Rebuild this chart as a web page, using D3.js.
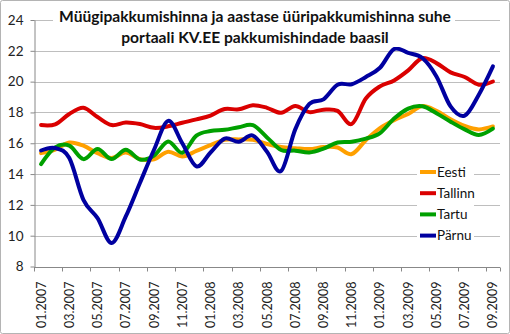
<!DOCTYPE html>
<html>
<head>
<meta charset="utf-8">
<script src="https://cdn.jsdelivr.net/npm/d3@7"></script>
<style>
  html, body { margin: 0; padding: 0; background: #fff; }
  svg { display: block; }
</style>
</head>
<body>
<svg id="chart" width="510" height="334"></svg>
<script>
const months = ["01.2007","02.2007","03.2007","04.2007","05.2007","06.2007","07.2007","08.2007","09.2007","10.2007","11.2007","12.2007",
                "01.2008","02.2008","03.2008","04.2008","05.2008","06.2008","07.2008","08.2008","09.2008","10.2008","11.2008","12.2008",
                "01.2009","02.2009","03.2009","04.2009","05.2009","06.2009","07.2009","08.2009","09.2009"];
const tickLabels = ["01.2007","03.2007","05.2007","07.2007","09.2007","11.2007","01.2008","03.2008","05.2008","07.2008","09.2008","11.2008","01.2009","03.2009","05.2009","07.2009","09.2009"];
const yTicks = [8, 10, 12, 14, 16, 18, 20, 22, 24];
const seriesNames = ["Eesti", "Tallinn", "Tartu", "Pärnu"];
const eesti   = [15.36,15.58,16.05,15.84,15.36,15.04,15.40,14.97,14.95,15.45,15.14,15.50,15.88,16.22,16.25,16.22,15.95,15.75,15.68,15.62,15.75,15.72,15.30,16.20,16.98,17.50,17.90,18.41,18.10,17.55,17.12,16.90,17.09];
const tallinn = [17.18,17.23,17.90,18.30,17.70,17.18,17.35,17.25,17.00,17.10,17.33,17.55,17.80,18.22,18.20,18.47,18.30,17.98,18.42,18.02,18.18,18.10,17.25,18.90,19.69,20.08,20.73,21.53,21.20,20.60,20.30,19.80,20.01];
const tartu   = [14.65,15.73,15.84,14.97,15.62,14.97,15.58,14.95,15.20,16.12,15.38,16.50,16.79,16.87,17.04,17.17,16.38,15.56,15.52,15.40,15.65,16.05,16.10,16.30,16.66,17.60,18.25,18.40,17.95,17.40,16.90,16.54,16.95];
const parnu   = [15.53,15.69,15.04,12.33,11.14,9.52,11.25,13.42,15.58,17.45,16.00,14.50,15.40,16.30,16.10,16.50,15.45,14.20,16.90,18.55,18.85,19.80,19.83,20.30,20.90,22.12,21.86,21.53,20.34,18.39,17.79,19.15,20.99];
const seriesValues = [eesti, tallinn, tartu, parnu];
const colors = ["#FFA000", "#DA0000", "#00A000", "#0000A0"];
const titleLines = ["Müügipakkumishinna ja aastase üüripakkumishinna suhe", "portaali KV.EE pakkumishindade baasil"];

const svg = d3.select("#chart");
const W = 510, H = 334;
const plot = {left: 34, right: 500, top: 20, bottom: 266.5};
const font = "Lato, 'Liberation Sans', sans-serif";

svg.append("rect").attr("x", 0.5).attr("y", 0.5).attr("width", W - 1).attr("height", H - 1)
  .attr("fill", "#fff").attr("stroke", "#B4B4B4").attr("rx", 2);

const x = d3.scaleBand().domain(months).range([plot.left, plot.right]).paddingInner(0).paddingOuter(0);
const y = d3.scaleLinear().domain([8, 24]).range([plot.bottom, plot.top]);
const cx = m => x(m) + x.bandwidth() / 2;

// gridlines
svg.append("g").selectAll("line").data(yTicks.filter(v => v > 8)).join("line")
  .attr("x1", plot.left).attr("x2", plot.right)
  .attr("y1", d => Math.round(y(d)) + 0.5).attr("y2", d => Math.round(y(d)) + 0.5)
  .attr("stroke", "#BEBEBE").attr("stroke-width", 1);

// y axis
const yAxis = d3.axisLeft(y).tickValues(yTicks).tickSize(4).tickSizeOuter(0).tickPadding(7);
const gy = svg.append("g").attr("transform", `translate(${plot.left + 0.5},0)`).call(yAxis);
gy.select(".domain").attr("stroke", "#888");
gy.selectAll(".tick line").attr("stroke", "#888");
gy.selectAll("text").attr("font-family", font).attr("font-size", 13.5).attr("fill", "#222");

// x axis
const xAxisG = svg.append("g").attr("transform", `translate(0,${Math.round(plot.bottom) + 0.5})`);
xAxisG.append("line").attr("x1", plot.left).attr("x2", plot.right).attr("stroke", "#888");
const tickIdx = months.map((m, i) => i).filter(i => i % 2 === 0);
const tickXs = tickIdx.map(i => x(months[i])).concat([plot.right]);
xAxisG.selectAll("line.tk").data(tickXs).join("line").attr("class", "tk")
  .attr("x1", d => Math.round(d) + 0.5).attr("x2", d => Math.round(d) + 0.5)
  .attr("y1", 0).attr("y2", 4).attr("stroke", "#888");
xAxisG.selectAll("text").data(tickLabels).join("text")
  .attr("transform", d => `translate(${cx(d) + 4.5},14) rotate(-90)`)
  .attr("text-anchor", "end")
  .attr("font-family", font).attr("font-size", 12.5).attr("fill", "#222")
  .text(d => d);

// lines
const line = d3.line().x((d, i) => cx(months[i])).y(d => y(d)).curve(d3.curveCatmullRom.alpha(0));
svg.append("g").selectAll("path").data(seriesValues).join("path")
  .attr("d", d => line(d)).attr("fill", "none")
  .attr("stroke", (d, i) => colors[i]).attr("stroke-width", 4)
  .attr("stroke-linejoin", "round").attr("stroke-linecap", "round");

// title
svg.append("rect").attr("x", 53).attr("y", 5).attr("width", 402).attr("height", 42).attr("fill", "#fff");
svg.append("g").selectAll("text").data(titleLines).join("text")
  .attr("x", 255).attr("y", (d, i) => 22 + i * 20.5)
  .attr("text-anchor", "middle").attr("font-family", font).attr("font-weight", "bold")
  .attr("font-size", 15.6).attr("fill", "#111").text(d => d);

// legend
const lg = svg.append("g");
lg.append("rect").attr("x", 417).attr("y", 160).attr("width", 57).attr("height", 86).attr("fill", "#fff");
const items = lg.selectAll("g").data(seriesNames).join("g")
  .attr("transform", (d, i) => `translate(420,${172 + i * 21.2})`);
items.append("line").attr("x1", 0).attr("x2", 16).attr("stroke", (d, i) => colors[i]).attr("stroke-width", 4);
items.append("text").attr("x", 17).attr("dy", "0.36em")
  .attr("font-family", font).attr("font-size", 13.5).attr("fill", "#111").text(d => d);
</script>
</body>
</html>
